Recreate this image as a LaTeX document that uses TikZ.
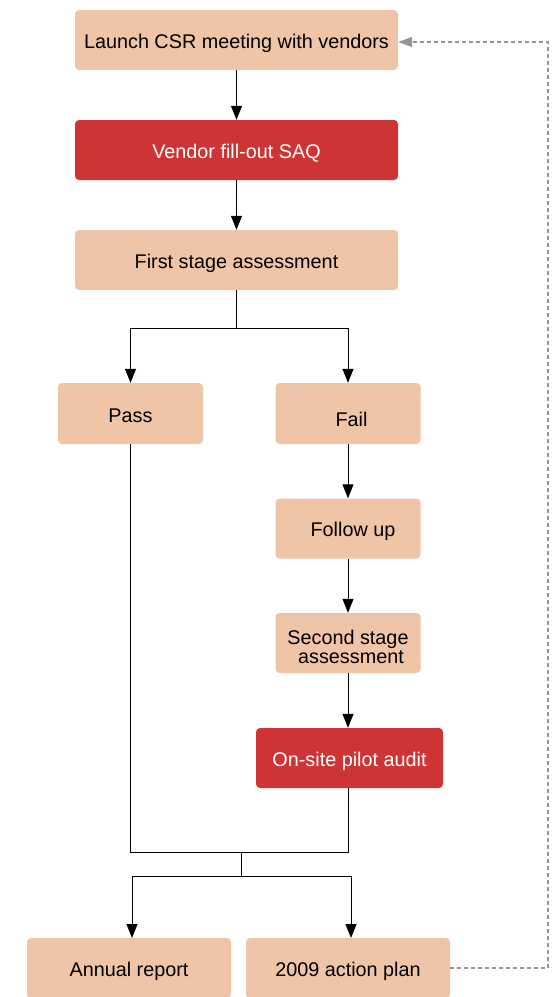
\documentclass[tikz,border=0pt]{standalone}
\usepackage{fontspec}
\setmainfont{Liberation Sans}
\usetikzlibrary{arrows.meta}
\definecolor{peach}{HTML}{F0C4A7}
\definecolor{redbox}{HTML}{CF3434}
\definecolor{dgrey}{HTML}{959595}
\newcommand{\bltext}[3]{\makebox[0pt]{\hspace*{#1}\raisebox{-#2}[0pt][0pt]{#3}}}
\begin{document}
\begin{tikzpicture}[x=1pt,y=-1pt,
  box/.style={draw=none,fill=peach,rounded corners=4pt,inner sep=0pt,
    font=\fontsize{19.8}{21}\selectfont,text=black},
  redb/.style={box,fill=redbox,text=white},
  conn/.style={line width=1pt,black},
  arr/.style={conn,-{Triangle[width=11pt,length=14pt]}},
  fb/.style={dgrey,line width=1.3pt,dash pattern=on 4pt off 3pt}]
\useasboundingbox (0,0) rectangle (554,997);
\begin{scope}
\clip (0,0) rectangle (554,997);
\node[box,minimum width=323pt,minimum height=60pt] (launch) at (236.5,40) {\bltext{0pt}{8.3pt}{Launch CSR meeting with vendors}};
\node[redb,minimum width=323pt,minimum height=60pt] (saq) at (236.5,150) {\bltext{0pt}{8.3pt}{Vendor fill-out SAQ}};
\node[box,minimum width=323pt,minimum height=60pt] (first) at (236.5,260) {\bltext{0pt}{8.3pt}{First stage assessment}};
\node[box,minimum width=145pt,minimum height=61pt] (pass) at (130.5,413.5) {\bltext{0pt}{8.8pt}{Pass}};
\node[box,minimum width=145pt,minimum height=61pt] (fail) at (348,413.5) {\bltext{7pt}{12.5pt}{Fail}};
\node[box,minimum width=145pt,minimum height=60pt] (follow) at (348,528.5) {\bltext{10pt}{8.2pt}{Follow up}};
\node[box,minimum width=145pt,minimum height=60pt] (second) at (348,643) {\bltext{0pt}{1pt}{Second stage}\bltext{6pt}{20.3pt}{assessment}};
\node[redb,minimum width=187pt,minimum height=60pt] (onsite) at (349.5,758) {\bltext{0pt}{8.3pt}{On-site pilot audit}};
\node[box,minimum width=204pt,minimum height=60pt] (annual) at (129,968) {\bltext{0pt}{8pt}{Annual report}};
\node[box,minimum width=204pt,minimum height=60pt] (plan) at (348,968) {\bltext{0pt}{8pt}{2009 action plan}};
\end{scope}
\coordinate (split1) at (first.south |- 0,328);
\coordinate (join) at (241.5,852);
\coordinate (split2) at (241.5,876);
\draw[arr] (launch.south) -- (saq.north);
\draw[arr] (saq.south) -- (first.north);
\draw[conn] (first.south) -- (split1);
\draw[arr] (split1) -| (pass.north);
\draw[arr] (split1) -| (fail.north);
\draw[arr] (fail.south) -- (follow.north);
\draw[arr] (follow.south) -- (second.north);
\draw[arr] (second.south) -- (second.south |- onsite.north);
\draw[conn] (pass.south) |- (join);
\draw[conn] (second.south |- onsite.south) |- (join);
\draw[conn] (join) -- (split2);
\draw[arr] (split2) -| (132,938);
\draw[arr] (split2) -| (351,938);
\draw[fb,-{Triangle[width=10pt,length=14pt]}] (plan.east) -- (548,968) -- (548,42) -- (launch.east |- 0,42);
\end{tikzpicture}
\end{document}
